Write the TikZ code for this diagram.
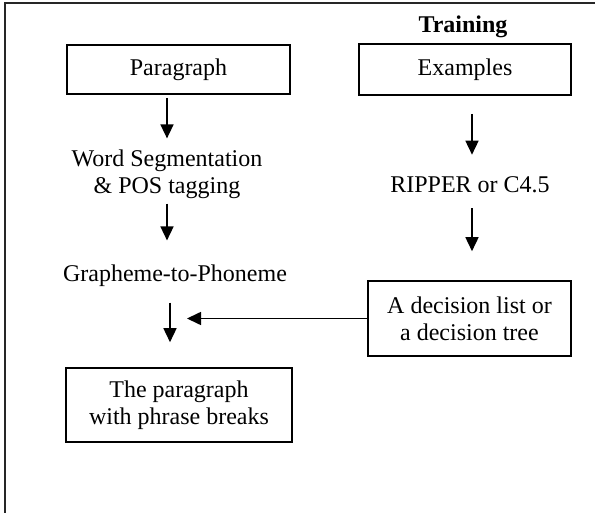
\documentclass[tikz,border=0pt]{standalone}
\usepackage{fontspec}
\setmainfont{Liberation Serif}
\usetikzlibrary{arrows.meta}
\begin{document}
\begin{tikzpicture}[x=1pt,y=-1pt,
  txt/.style={inner sep=0pt, align=center, font=\fontsize{24}{27}\selectfont},
  box/.style={txt, draw, line width=1.6pt},
  arr/.style={line width=1.6pt, -{Triangle[length=14pt,width=13pt]}}]
\useasboundingbox (0,0) rectangle (595,513);
\fill[white] (0,0) rectangle (595,513);
\draw[line width=2pt, black!85] (5,513) -- (5,3) -- (595,3);
% left column
\node[box, minimum width=223pt, minimum height=49pt] (para) at (178.5,69.5) {Paragraph};
\node[txt] (wordseg) at (167,174) {Word Segmentation\\\& POS tagging};
\node[txt] (graph) at (175,275.5) {Grapheme-to-Phoneme};
\node[box, minimum width=226pt, minimum height=74pt] (phrase) at (179,405) {The paragraph\\with phrase breaks};
% right column
\node[txt, font=\fontsize{24}{27}\selectfont\bfseries, anchor=base] (train) at (463,33) {Training};
\node[box, minimum width=212pt, minimum height=51pt] (examples) at (465,69.5) {Examples};
\node[txt] (ripper) at (470,185) {RIPPER or C4.5};
\node[box, minimum width=203pt, minimum height=75pt] (decision) at (469.5,318.5) {A decision list or\\a decision tree};
\coordinate (mid) at (187,318.5);
% connectors
\draw[arr, shorten <=3pt, shorten >=11pt] (para.south -| wordseg.north) -- (wordseg.north);
\draw[arr, shorten <=5pt, shorten >=24pt] (wordseg.south) -- (wordseg.south |- graph.north);
\draw[arr, shorten <=16pt, shorten >=25pt] (graph.south -| 170,0) -- (phrase.north -| 170,0);
\draw[arr, shorten <=18pt, shorten >=22pt] (examples.south -| 472,0) -- (ripper.north -| 472,0);
\draw[arr, shorten <=15pt, shorten >=29pt] (ripper.south -| 472,0) -- (decision.north -| 472,0);
\draw[arr] (decision.west) -- (mid);
\end{tikzpicture}
\end{document}
